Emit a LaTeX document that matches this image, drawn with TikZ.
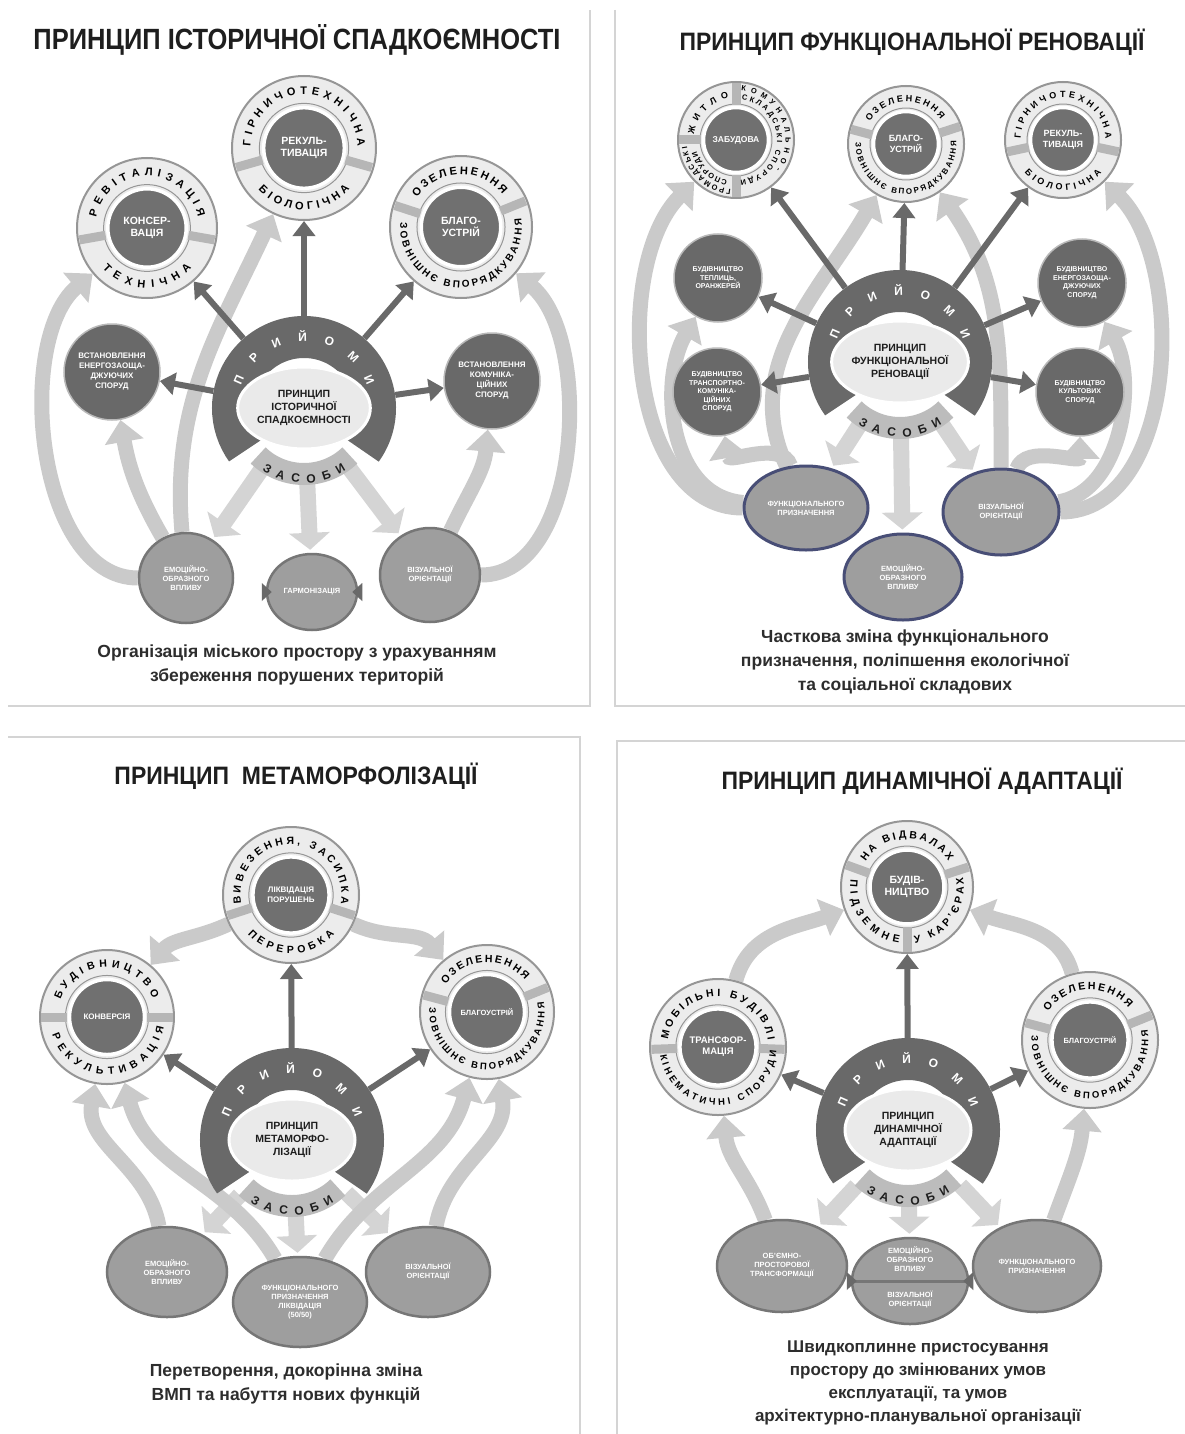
\documentclass[tikz,border=0pt]{standalone}
\usepackage{fontspec}
\setmainfont{Liberation Sans}
\usepackage{graphicx}
\usetikzlibrary{arrows.meta,calc,backgrounds,positioning}
\usetikzlibrary{decorations.text,shapes.geometric}

\definecolor{darkgr}{RGB}{105,105,105}
\definecolor{coregr}{RGB}{112,112,112}
\definecolor{ringfill}{RGB}{236,236,236}
\definecolor{ringsepgr}{RGB}{182,182,182}
\definecolor{ringln}{RGB}{150,150,150}
\definecolor{arcgr}{RGB}{202,202,202}
\definecolor{downgr}{RGB}{212,212,212}
\definecolor{zasgr}{RGB}{188,188,188}
\definecolor{botgr}{RGB}{158,158,158}
\definecolor{botln}{RGB}{118,118,118}
\definecolor{navyln}{RGB}{72,78,118}
\definecolor{hubfill}{RGB}{234,234,234}
\definecolor{framegr}{RGB}{212,212,212}
\definecolor{inkgr}{RGB}{30,30,30}
\definecolor{captgr}{RGB}{45,45,45}

\newcommand{\ringfont}{\fontsize{11}{11}\selectfont\bfseries}
\newcommand{\longring}{\fontsize{10}{10}\selectfont\bfseries}
\newcommand{\smallring}{\fontsize{7.5}{7.5}\selectfont\bfseries}
\newcommand{\corefont}{\fontsize{10.5}{12.5}\selectfont\bfseries}
\newcommand{\sidefont}{\fontsize{8}{10}\selectfont\bfseries}
\newcommand{\tinyfont}{\fontsize{7}{8.5}\selectfont\bfseries}
\newcommand{\botfont}{\fontsize{7.5}{9}\selectfont\bfseries}
\newcommand{\hubfont}{\fontsize{12}{12}\selectfont\bfseries}
\newcommand{\hubtext}{\fontsize{10.5}{13}\selectfont\bfseries}
\newcommand{\captfont}{\fontsize{17.5}{24}\selectfont\bfseries}

\tikzset{
  ringo/.style={circle,draw=ringln,line width=2pt,fill=ringfill,inner sep=0pt},
  ringsep/.style={draw=ringsepgr,line width=9pt},
  corebox/.style={circle,fill=coregr,draw=white,line width=3.5pt,inner sep=0pt,align=center,text=white,font=\corefont},
  sidebox/.style={circle,fill=darkgr,draw=gray!55,line width=1.5pt,inner sep=0pt,minimum size=96,align=center,text=white,font=\sidefont},
  botbox/.style={ellipse,fill=botgr,draw=botln,line width=2.5pt,inner sep=0pt,align=center,text=white,font=\botfont},
  navybox/.style={botbox,draw=navyln,line width=3pt},
  hubzone/.style={circle,minimum size=184,inner sep=0pt},
  hubring/.style={draw=darkgr,line width=42pt},
  zasband/.style={draw=zasgr,line width=22pt},
  hubell/.style={ellipse,fill=hubfill,draw=white,line width=3pt,minimum width=126,minimum height=82,inner sep=0pt,align=center,text=inkgr,font=\hubtext},
  darkarrow/.style={draw=darkgr,line width=6pt,-{Triangle[length=15pt,width=22pt]}},
  downarrow/.style={draw=downgr,line width=16pt,shorten <=76pt,shorten >=3pt,-{Triangle[length=17pt,width=40pt]}},
  arcarrow/.style={draw=arcgr,line width=15pt,-{Triangle[length=22pt,width=38pt]}},
  frameline/.style={draw=framegr,line width=2.5pt},
  titlebox/.style={anchor=base,inner sep=0pt,text=inkgr},
  captbox/.style={anchor=north,inner sep=0pt,align=center,text=captgr,font=\captfont},
}

% text bent along a circle round a node
\newcommand{\arclabel}[6][\ringfont]{%
  \pgfmathsetmacro{\arcrad}{#3}%
  \path[decorate,decoration={text along path,text align={fit to path},text={|#1|#6}}]
    ($(#2)+(#4:\arcrad)$) arc[start angle=#4,end angle=#5,radius=\arcrad];%
}
\newcommand{\toplabel}[6][\ringfont]{\arclabel[#1]{#2}{0.8*#3-4}{#4}{#5}{#6}}
\newcommand{\botlabel}[6][\ringfont]{\arclabel[#1]{#2}{0.8*#3+4}{#4}{#5}{#6}}

% ring with a dark core
\newcommand{\ringnode}[6][]{%
  \node[ringo,minimum size=2*#4] (#2) at (#3) {};
  \pgfmathsetmacro{\ringin}{0.62*#4}%
  \draw[draw=ringln,line width=1pt] (#2) circle[radius=\ringin];
  \foreach \a in {#5} {\draw[ringsep] ($(#2)+(\a:{0.6*#4})$) -- ($(#2)+(\a:{0.98*#4})$);}
  \node[corebox,minimum size=1.12*#4,#1] (#2c) at (#2) {#6};
}

% central principle with its horseshoe
\newcommand{\hubnode}[3]{%
  \node[hubzone] (#1) at (#2) {};
  \draw[zasband] ($(#1)+(226:66)$) arc[start angle=226,end angle=314,radius=66];
  \draw[hubring] ($(#1)+(-36:71)$) arc[start angle=-36,end angle=216,radius=71];
  \node[hubell] (#1e) at (#1) {#3};
  \arclabel[\hubfont\color{white}]{#1}{67}{160}{20}{ПРИЙОМИ}
  \arclabel[\hubfont\color{inkgr}]{#1}{75}{236}{304}{ЗАСОБИ}
}

\begin{document}
\begin{tikzpicture}[x=1pt,y=1pt]
  \useasboundingbox (0,0) rectangle (1185,-1434);

  % frames
  \draw[frameline] (8,-706) -- (590,-706) -- (590,-10);
  \draw[frameline] (615,-10) -- (615,-706) -- (1185,-706);
  \draw[frameline] (8,-737) -- (580,-737) -- (580,-1434);
  \draw[frameline] (1185,-741) -- (617,-741) -- (617,-1434);

  % titles
  \node[titlebox] (title1) at (297,-50) {\resizebox{527pt}{25pt}{\bfseries ПРИНЦИП ІСТОРИЧНОЇ СПАДКОЄМНОСТІ}};
  \node[titlebox] (title2) at (912,-51) {\resizebox{465pt}{21.5pt}{\bfseries ПРИНЦИП ФУНКЦІОНАЛЬНОЇ РЕНОВАЦІЇ}};
  \node[titlebox] (title3) at (296,-784) {\resizebox{363pt}{21.5pt}{\bfseries ПРИНЦИП\ \ МЕТАМОРФОЛІЗАЦІЇ}};
  \node[titlebox] (title4) at (922,-789) {\resizebox{401pt}{21.5pt}{\bfseries ПРИНЦИП ДИНАМІЧНОЇ АДАПТАЦІЇ}};

  %% panel 1
  \ringnode{gorn}{304,-148}{72}{196,-16}{РЕКУЛЬ-\\ТИВАЦІЯ}
  \toplabel{gorn}{72}{178}{2}{ГІРНИЧОТЕХНІЧНА}
  \botlabel{gorn}{72}{222}{318}{БІОЛОГІЧНА}
  \ringnode{revit}{147,-228}{70}{190,-10}{КОНСЕР-\\ВАЦІЯ}
  \toplabel{revit}{70}{168}{12}{РЕВІТАЛІЗАЦІЯ}
  \botlabel{revit}{70}{222}{318}{ТЕХНІЧНА}
  \ringnode{ozel}{461,-227}{71}{162,22}{БЛАГО-\\УСТРІЙ}
  \toplabel{ozel}{71}{146}{38}{ОЗЕЛЕНЕННЯ}
  \botlabel[\longring]{ozel}{71}{176}{368}{ЗОВНІШНЄ ВПОРЯДКУВАННЯ}

  \node[sidebox] (energ) at (112,-372) {ВСТАНОВЛЕННЯ\\ЕНЕРГОЗАОЩА-\\ДЖУЮЧИХ\\СПОРУД};
  \node[sidebox] (komun) at (492,-381) {ВСТАНОВЛЕННЯ\\КОМУНІКА-\\ЦІЙНИХ\\СПОРУД};

  \hubnode{hist}{304,-408}{ПРИНЦИП\\ІСТОРИЧНОЇ\\СПАДКОЄМНОСТІ}

  \node[botbox,minimum width=94,minimum height=90] (emo1) at (186,-578) {ЕМОЦІЙНО-\\ОБРАЗНОГО\\ВПЛИВУ};
  \node[botbox,minimum width=90,minimum height=76] (harm) at (312,-592) {ГАРМОНІЗАЦІЯ};
  \node[botbox,minimum width=100,minimum height=94] (viz1) at (430,-575) {ВІЗУАЛЬНОЇ\\ОРІЄНТАЦІЇ};
  \fill[darkgr] ($(harm.west)+(-4,9)$) -- ++(10,-9) -- ++(-10,-9) -- cycle;
  \fill[darkgr] ($(harm.east)+(4,9)$) -- ++(-10,-9) -- ++(10,-9) -- cycle;

  \draw[darkarrow] (hist) -- (gorn);
  \draw[darkarrow] (hist) -- (revit);
  \draw[darkarrow] (hist) -- (ozel);
  \draw[darkarrow] (hist) -- (energ);
  \draw[darkarrow] (hist) -- (komun);

  \node[captbox] (capt1) at (297,-645) {Організація міського простору з урахуванням\\збереження порушених територій};

  %% panel 2
  \begin{scope}
    \renewcommand{\ringfont}{\fontsize{9}{9}\selectfont\bfseries}
    \ringnode[font=\fontsize{8.5}{10}\selectfont\bfseries]{zab}{736,-140}{58}{90,180,270}{ЗАБУДОВА}
    \toplabel{zab}{58}{172}{100}{ЖИТЛО}
    \arclabel[\smallring]{zab}{49.5}{84}{-36}{КОМУНАЛЬНО-}
    \arclabel[\smallring]{zab}{41}{82}{-84}{СКЛАДСЬКІ СПОРУДИ}
    \arclabel[\smallring]{zab}{49.5}{264}{188}{ГРОМАДСЬКІ}
    \arclabel[\smallring]{zab}{41}{258}{196}{СПОРУДИ}
    \ringnode[font=\fontsize{9}{10.5}\selectfont\bfseries]{blag2}{906,-144}{58}{165,18}{БЛАГО-\\УСТРІЙ}
    \toplabel{blag2}{58}{148}{35}{ОЗЕЛЕНЕННЯ}
    \botlabel[\fontsize{8}{8}\selectfont\bfseries]{blag2}{58}{178}{364}{ЗОВНІШНЄ ВПОРЯДКУВАННЯ}
    \ringnode[font=\fontsize{9}{10.5}\selectfont\bfseries]{rek2}{1063,-140}{58}{192,-12}{РЕКУЛЬ-\\ТИВАЦІЯ}
    \toplabel{rek2}{58}{178}{2}{ГІРНИЧОТЕХНІЧНА}
    \botlabel{rek2}{58}{220}{320}{БІОЛОГІЧНА}
  \end{scope}

  \node[sidebox,minimum size=88,font=\tinyfont] (tepl) at (718,-278) {БУДІВНИЦТВО\\ТЕПЛИЦЬ,\\ОРАНЖЕРЕЙ};
  \node[sidebox,minimum size=88,font=\tinyfont] (trans) at (717,-392) {БУДІВНИЦТВО\\ТРАНСПОРТНО-\\КОМУНІКА-\\ЦІЙНИХ\\СПОРУД};
  \node[sidebox,minimum size=88,font=\tinyfont] (energ2) at (1082,-283) {БУДІВНИЦТВО\\ЕНЕРГОЗАОЩА-\\ДЖУЮЧИХ\\СПОРУД};
  \node[sidebox,minimum size=88,font=\tinyfont] (kult) at (1080,-392) {БУДІВНИЦТВО\\КУЛЬТОВИХ\\СПОРУД};

  \hubnode{func}{900,-362}{ПРИНЦИП\\ФУНКЦІОНАЛЬНОЇ\\РЕНОВАЦІЇ}

  \node[navybox,minimum width=124,minimum height=84] (funk2) at (806,-508) {ФУНКЦІОНАЛЬНОГО\\ПРИЗНАЧЕННЯ};
  \node[navybox,minimum width=116,minimum height=86] (viz2) at (1001,-512) {ВІЗУАЛЬНОЇ\\ОРІЄНТАЦІЇ};
  \node[navybox,minimum width=118,minimum height=86] (emo2) at (903,-577) {ЕМОЦІЙНО-\\ОБРАЗНОГО\\ВПЛИВУ};

  \draw[darkarrow] (func) -- (zab);
  \draw[darkarrow] (func) -- (blag2);
  \draw[darkarrow] (func) -- (rek2);
  \draw[darkarrow] (func) -- (tepl);
  \draw[darkarrow] (func) -- (trans);
  \draw[darkarrow] (func) -- (energ2);
  \draw[darkarrow] (func) -- (kult);

  \node[captbox] (capt2) at (905,-630) {Часткова зміна функціонального\\призначення, поліпшення екологічної\\та соціальної складових};

  %% panel 3
  \begin{scope}
    \renewcommand{\ringfont}{\fontsize{10.5}{10.5}\selectfont\bfseries}
    \ringnode[font=\fontsize{8}{9.5}\selectfont\bfseries]{likv}{291,-895}{68}{198,-18}{ЛІКВІДАЦІЯ\\ПОРУШЕНЬ}
    \toplabel{likv}{68}{190}{-10}{ВИВЕЗЕННЯ, ЗАСИПКА}
    \botlabel{likv}{68}{222}{318}{ПЕРЕРОБКА}
    \ringnode[font=\fontsize{8}{9.5}\selectfont\bfseries]{konv}{107,-1017}{67}{180,0}{КОНВЕРСІЯ}
    \toplabel{konv}{67}{160}{22}{БУДІВНИЦТВО}
    \botlabel{konv}{67}{198}{350}{РЕКУЛЬТИВАЦІЯ}
    \ringnode[font=\fontsize{7.5}{9}\selectfont\bfseries]{blag3}{487,-1012}{67}{165,22}{БЛАГОУСТРІЙ}
    \toplabel{blag3}{67}{146}{40}{ОЗЕЛЕНЕННЯ}
    \botlabel[\fontsize{9.5}{9.5}\selectfont\bfseries]{blag3}{67}{176}{370}{ЗОВНІШНЄ ВПОРЯДКУВАННЯ}
  \end{scope}

  \hubnode{meta}{292,-1140}{ПРИНЦИП\\МЕТАМОРФО-\\ЛІЗАЦІЇ}

  \node[botbox,minimum width=120,minimum height=90] (emo3) at (167,-1272) {ЕМОЦІЙНО-\\ОБРАЗНОГО\\ВПЛИВУ};
  \node[botbox,minimum width=134,minimum height=90] (func3) at (300,-1302) {ФУНКЦІОНАЛЬНОГО\\ПРИЗНАЧЕННЯ\\ЛІКВІДАЦІЯ\\(50/50)};
  \node[botbox,minimum width=124,minimum height=90] (viz3) at (428,-1272) {ВІЗУАЛЬНОЇ\\ОРІЄНТАЦІЇ};

  \draw[darkarrow] (meta) -- (likv);
  \draw[darkarrow] (meta) -- (konv);
  \draw[darkarrow] (meta) -- (blag3);

  \node[captbox] (capt3) at (286,-1364) {Перетворення, докорінна зміна\\ВМП та набуття нових функцій};

  %% panel 4
  \begin{scope}
    \renewcommand{\ringfont}{\fontsize{10.5}{10.5}\selectfont\bfseries}
    \ringnode{bud}{907,-887}{66}{160,18,270}{БУДІВ-\\НИЦТВО}
    \toplabel{bud}{66}{148}{32}{НА ВІДВАЛАХ}
    \botlabel{bud}{66}{172}{262}{ПІДЗЕМНЕ}
    \botlabel{bud}{66}{278}{370}{У КАР'ЄРАХ}
    \ringnode[font=\fontsize{9.5}{11}\selectfont\bfseries]{trans4}{718,-1047}{68}{182,-2}{ТРАНСФОР-\\МАЦІЯ}
    \toplabel{trans4}{68}{172}{8}{МОБІЛЬНІ БУДІВЛІ}
    \botlabel[\fontsize{9.5}{9.5}\selectfont\bfseries]{trans4}{68}{188}{356}{КІНЕМАТИЧНІ СПОРУДИ}
    \ringnode[font=\fontsize{7.5}{9}\selectfont\bfseries]{blag4}{1090,-1040}{68}{165,22}{БЛАГОУСТРІЙ}
    \toplabel{blag4}{68}{146}{40}{ОЗЕЛЕНЕННЯ}
    \botlabel[\fontsize{9.5}{9.5}\selectfont\bfseries]{blag4}{68}{176}{370}{ЗОВНІШНЄ ВПОРЯДКУВАННЯ}
  \end{scope}

  \hubnode{dyn}{908,-1130}{ПРИНЦИП\\ДИНАМІЧНОЇ\\АДАПТАЦІЇ}

  \node[botbox,minimum width=130,minimum height=92] (obem) at (782,-1266) {ОБ'ЄМНО-\\ПРОСТОРОВОЇ\\ТРАНСФОРМАЦІЇ};
  \node[botbox,minimum width=116,minimum height=86] (emviz) at (910,-1281) {};
  \draw[draw=botln,line width=3pt] (emviz.west) -- (emviz.east);
  \node[font=\botfont,text=white,align=center] (emvizup) at (910,-1259) {ЕМОЦІЙНО-\\ОБРАЗНОГО\\ВПЛИВУ};
  \node[font=\botfont,text=white,align=center] (emvizdn) at (910,-1300) {ВІЗУАЛЬНОЇ\\ОРІЄНТАЦІЇ};
  \node[botbox,minimum width=128,minimum height=92] (funk4) at (1037,-1266) {ФУНКЦІОНАЛЬНОГО\\ПРИЗНАЧЕННЯ};
  \fill[darkgr] ($(emviz.west)+(-4,9)$) -- ++(10,-9) -- ++(-10,-9) -- cycle;
  \fill[darkgr] ($(emviz.east)+(4,9)$) -- ++(-10,-9) -- ++(10,-9) -- cycle;

  \draw[darkarrow] (dyn) -- (bud);
  \draw[darkarrow] (dyn) -- (trans4);
  \draw[darkarrow] (dyn) -- (blag4);

  \node[captbox,font=\fontsize{17}{23}\selectfont\bfseries] (capt4) at (918,-1341) {Швидкоплинне пристосування\\простору до змінюваних умов\\експлуатації, та умов\\архітектурно-планувальної організації};

  % light arrows behind everything
  \begin{pgfonlayer}{background}
    \fill[white] (0,0) rectangle (1185,-1434);
    \draw[downarrow] (hist.center) -- (emo1);
    \draw[downarrow] (hist.center) -- (harm);
    \draw[downarrow] (hist.center) -- (viz1);
    \draw[arcarrow] (emo1) to[out=95,in=245] (gorn);
    \draw[arcarrow] (emo1) to[out=120,in=280] (energ);
    \draw[arcarrow] (emo1) to[out=180,in=220,looseness=0.85] (revit);
    \draw[arcarrow] (viz1) to[out=65,in=265] (komun);
    \draw[arcarrow] (viz1) to[out=0,in=320,looseness=0.85] (ozel);

    \draw[downarrow] (func.center) -- (funk2);
    \draw[downarrow] (func.center) -- (emo2);
    \draw[downarrow] (func.center) -- (viz2);
    \draw[arcarrow] (funk2) to[out=180,in=225,looseness=0.9] (zab);
    \draw[arcarrow] (funk2) to[out=175,in=240] (tepl);
    \draw[arcarrow] (funk2) to[out=110,in=280] (trans);
    \draw[arcarrow] (funk2) to[out=115,in=240] (blag2);
    \draw[arcarrow] (viz2) to[out=0,in=315,looseness=0.9] (rek2);
    \draw[arcarrow] (viz2) to[out=10,in=300,looseness=0.9] (energ2);
    \draw[arcarrow] (viz2) to[out=70,in=270] (kult);
    \draw[arcarrow] (viz2) to[out=90,in=305] (blag2);

    \draw[arcarrow] (likv) to[out=205,in=50] (konv);
    \draw[arcarrow] (likv) to[out=-25,in=130] (blag3);
    \draw[downarrow] (meta.center) -- (emo3);
    \draw[downarrow] (meta.center) -- (func3);
    \draw[downarrow] (meta.center) -- (viz3);
    \draw[arcarrow] (emo3) to[out=100,in=260] (konv);
    \draw[arcarrow] (func3) to[out=120,in=285] (konv);
    \draw[arcarrow] (func3) to[out=60,in=255] (blag3);
    \draw[arcarrow] (viz3) to[out=80,in=280] (blag3);

    \draw[arcarrow] (trans4) to[out=75,in=200] (bud);
    \draw[arcarrow] (blag4) to[out=105,in=340] (bud);
    \draw[downarrow] (dyn.center) -- (obem);
    \draw[downarrow] (dyn.center) -- (emviz);
    \draw[downarrow] (dyn.center) -- (funk4);
    \draw[arcarrow] (obem) to[out=110,in=275] (trans4);
    \draw[arcarrow] (funk4) to[out=70,in=265] (blag4);
  \end{pgfonlayer}
\end{tikzpicture}
\end{document}
